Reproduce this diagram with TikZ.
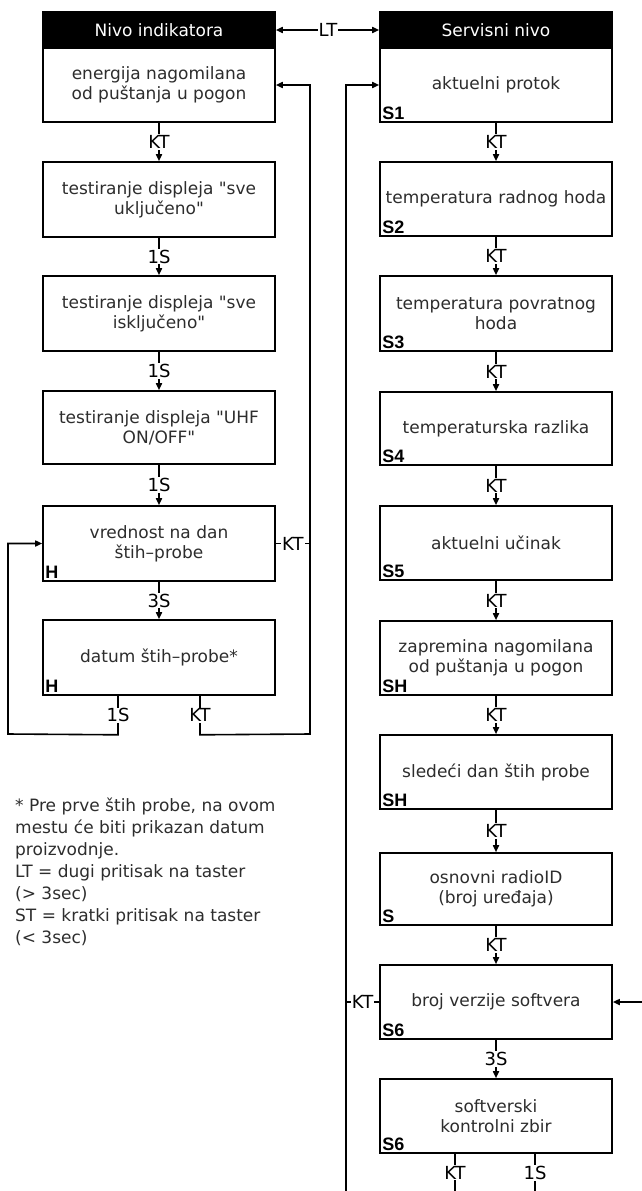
\documentclass[tikz,border=0pt]{standalone}
\usepackage{fontspec}
\newfontfamily\dv{DejaVu Sans}
\newfontfamily\segfont{Liberation Sans}
\usetikzlibrary{arrows.meta}
\definecolor{txt}{RGB}{45,45,45}
\begin{document}
\begin{tikzpicture}[x=1pt,y=-1pt,
  box/.style={draw=black,line width=1.6pt,fill=white,minimum width=232pt,inner sep=0pt,align=center,text=txt,font=\dv\fontsize{17}{20}\selectfont},
  hdr/.style={draw=black,fill=black,line width=1.6pt,minimum width=232pt,minimum height=36pt,inner sep=0pt,text=white,font=\dv\fontsize{17}{20}\selectfont},
  lbl/.style={fill=white,inner sep=1pt,font=\dv\fontsize{18}{20}\selectfont,text=black},
  seg/.style={inner sep=0pt,anchor=south west,text=black,font=\segfont\bfseries\fontsize{18}{18}\selectfont},
  con/.style={line width=1.6pt},
  arr/.style={con,-{Triangle[length=7pt,width=6pt]}},
]
\useasboundingbox (0,0) rectangle (642,1191);

% left column
\node[hdr] (Lh) at (159,30) {Nivo indikatora};
\node[box,minimum height=74pt] (L0) at (159,85) {energija nagomilana\\od puštanja u pogon};
\node[box,minimum height=75pt] (L1) at (159,199.5) {testiranje displeja "sve\\uključeno"};
\node[box,minimum height=75pt] (L2) at (159,313.5) {testiranje displeja "sve\\isključeno"};
\node[box,minimum height=73pt] (L3) at (159,427.5) {testiranje displeja "UHF\\ON/OFF"};
\node[box,minimum height=75pt] (L4) at (159,543.5) {vrednost na dan\\štih–probe};
\node[box,minimum height=75pt] (L5) at (159,657.5) {datum štih–probe*};
\node[seg] (h4) at ([shift={(3pt,3pt)}]L4.south west) {H};
\node[seg] (h5) at ([shift={(3pt,3pt)}]L5.south west) {H};

% right column
\node[hdr] (Rh) at (496,30) {Servisni nivo};
\node[box,minimum height=74pt] (R0) at (496,85) {aktuelni protok};
\node[box,minimum height=74pt] (R1) at (496,199) {temperatura radnog hoda};
\node[box,minimum height=75pt] (R2) at (496,313.5) {temperatura povratnog\\hoda};
\node[box,minimum height=73pt] (R3) at (496,428.5) {temperaturska razlika};
\node[box,minimum height=74pt] (R4) at (496,543) {aktuelni učinak};
\node[box,minimum height=74pt] (R5) at (496,658) {zapremina nagomilana\\od puštanja u pogon};
\node[box,minimum height=74pt] (R6) at (496,772) {sledeći dan štih probe};
\node[box,minimum height=72pt] (R7) at (496,889) {osnovni radioID\\(broj uređaja)};
\node[box,minimum height=74pt] (R8) at (496,1002) {broj verzije softvera};
\node[box,minimum height=74pt] (R9) at (496,1116) {softverski\\kontrolni zbir};
\node[seg] (s0) at ([shift={(3pt,3pt)}]R0.south west) {S1};
\node[seg] (s1) at ([shift={(3pt,3pt)}]R1.south west) {S2};
\node[seg] (s2) at ([shift={(3pt,3pt)}]R2.south west) {S3};
\node[seg] (s3) at ([shift={(3pt,3pt)}]R3.south west) {S4};
\node[seg] (s4) at ([shift={(3pt,3pt)}]R4.south west) {S5};
\node[seg] (s5) at ([shift={(3pt,3pt)}]R5.south west) {SH};
\node[seg] (s6) at ([shift={(3pt,3pt)}]R6.south west) {SH};
\node[seg] (s7) at ([shift={(3pt,3pt)}]R7.south west) {S};
\node[seg] (s8) at ([shift={(3pt,3pt)}]R8.south west) {S6};
\node[seg] (s9) at ([shift={(3pt,3pt)}]R9.south west) {S6};

% LT
\node[lbl] (lt) at (328,30) {LT};
\draw[arr] (lt) -- (Lh);
\draw[arr] (lt) -- (Rh);

% left chain
\draw[arr] (L0) -- node[lbl]{KT} (L1);
\draw[arr] (L1) -- node[lbl]{1S} (L2);
\draw[arr] (L2) -- node[lbl]{1S} (L3);
\draw[arr] (L3) -- node[lbl]{1S} (L4);
\draw[arr] (L4) -- node[lbl]{3S} (L5);

% left loops
\coordinate (lvb) at (310,734);
\coordinate (lvt) at (310,85);
\coordinate (llb) at (8,734);
\coordinate (llt) at (8,543.5);
\draw[arr] ([xshift=41pt]L5.south) -- node[lbl]{KT} ++(0,39) -- (lvb) -- (lvt) -- (L0.east);
\draw[con] (L4.east) -- node[lbl]{KT} (310,543.5);
\draw[arr] ([xshift=-41pt]L5.south) -- node[lbl]{1S} ++(0,39) -- (llb) -- (llt) -- (L4.west);

% right chain
\draw[arr] (R0) -- node[lbl]{KT} (R1);
\draw[arr] (R1) -- node[lbl]{KT} (R2);
\draw[arr] (R2) -- node[lbl]{KT} (R3);
\draw[arr] (R3) -- node[lbl]{KT} (R4);
\draw[arr] (R4) -- node[lbl]{KT} (R5);
\draw[arr] (R5) -- node[lbl]{KT} (R6);
\draw[arr] (R6) -- node[lbl]{KT} (R7);
\draw[arr] (R7) -- node[lbl]{KT} (R8);
\draw[arr] (R8) -- node[lbl]{3S} (R9);

% right loops
\coordinate (rvb) at (346,1191);
\coordinate (rvt) at (346,85);
\coordinate (rin) at (642,1002);
\draw[arr] (rvb) -- (rvt) -- (R0.west);
\draw[con] (R8.west) -- node[lbl]{KT} (346,1002);
\draw[arr] (rin) -- (R8.east);
\draw[con] ([xshift=-41pt]R9.south) -- node[lbl]{KT} ++(0,38);
\draw[con] ([xshift=39pt]R9.south) -- node[lbl]{1S} ++(0,38);

% note
\node[anchor=north west,align=left,inner sep=0pt,text=txt,font=\dv\fontsize{17}{22}\selectfont] (note) at (15,798) {* Pre prve štih probe, na ovom\\mestu će biti prikazan datum\\proizvodnje.\\LT = dugi pritisak na taster\\(> 3sec)\\ST = kratki pritisak na taster\\(< 3sec)};
\end{tikzpicture}
\end{document}
